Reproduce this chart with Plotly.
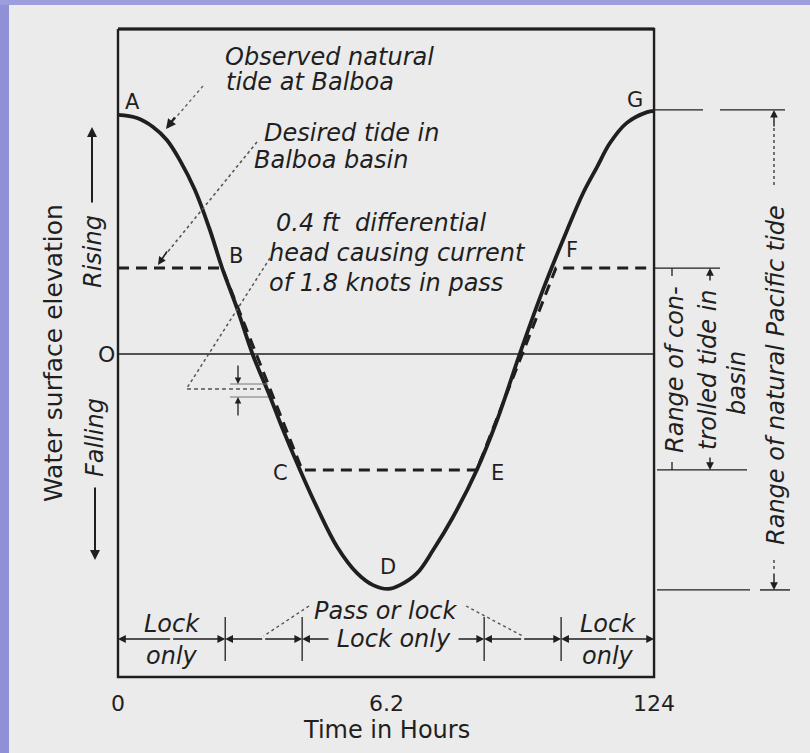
import plotly.graph_objects as go

# observed natural tide at Balboa: time (hours) and water level (ft about mean)
hours = [0.0, 0.44, 0.81, 1.13, 1.43, 1.78, 2.11, 2.41, 2.75, 3.12, 3.52, 3.82,
         4.21, 4.60, 5.07, 5.53, 5.90, 6.25, 6.52, 6.92, 7.29, 7.75, 8.30, 8.77,
         9.30, 9.83, 10.39, 10.76, 11.08, 11.38, 11.77, 12.24, 12.40]
observed_ft = [9.96, 9.83, 9.46, 8.92, 8.08, 6.83, 5.25, 3.58, 1.92, -0.04, -1.79, -3.17,
               -4.83, -6.38, -8.04, -9.13, -9.63, -9.79, -9.63, -9.13, -8.17, -6.79, -4.83, -2.75,
               0.04, 2.67, 5.17, 6.71, 7.79, 8.79, 9.63, 10.08, 10.13]

# desired (controlled) tide in Balboa basin
desired_hours = [0.0, 2.41, 4.26, 8.30, 10.13, 12.4]
desired_ft = [3.58, 3.58, -4.83, -4.83, 3.58, 3.58]

natural_range = [10.17, -9.83]
controlled_range = [3.58, -4.83]

# operating periods along the bottom
period_edges = [0.0, 2.48, 4.26, 8.47, 10.25, 12.4]
period_labels = ["Lock|only", "", "Lock only", "", "Lock|only"]

x_ticks = [0, 6.2, 12.4]
x_tick_text = ["0", "6.2", "124"]

INK = "#1f1f1f"
PAPER = "#ebebeb"
FONT = "DejaVu Sans"


def hx(px):
    """pixel column -> hours"""
    return (px - 118) / 43.23


def fy(py):
    """pixel row -> feet"""
    return (354 - py) / 24


fig = go.Figure()


def line(xs, ys, width=1.5, dash="solid", color=INK, shape="linear"):
    fig.add_trace(go.Scatter(x=xs, y=ys, mode="lines",
                             line=dict(color=color, width=width, dash=dash, shape=shape, smoothing=1.0),
                             hoverinfo="skip", showlegend=False))


def arrow(x0, y0, x1, y1, width=1.4, size=1.1):
    fig.add_annotation(x=x1, y=y1, ax=x0, ay=y0, xref="x", yref="y", axref="x", ayref="y", text="",
                       showarrow=True, arrowhead=2, arrowsize=size, arrowwidth=width, arrowcolor=INK)


def label(x, y, text, size=24, italic=True, anchor="center", angle=0, bg=None, xshift=0, yshift=0):
    fig.add_annotation(x=x, y=y, text=f"<i>{text}</i>" if italic else text, showarrow=False,
                       xanchor=anchor, yanchor="middle", textangle=angle, xshift=xshift, yshift=yshift,
                       bgcolor=bg, borderpad=0, font=dict(family=FONT, size=size, color=INK))


# frame and zero line
box_bottom, box_top = fy(677), fy(29)
line([0, 0, 12.4, 12.4, 0], [box_top, box_bottom, box_bottom, box_top, box_top], width=2.4)
line([0, 12.4], [box_top, box_top], width=3)
line([0, 12.4], [0, 0], width=1.6)

# tides
line(desired_hours, desired_ft, width=3, dash="11px,7px")
line(hours, observed_ft, width=3.8, shape="spline")

# letters on the curves
lo = observed_ft.index(min(observed_ft))
pts = [(hours[0], observed_ft[0], 14, 13), (desired_hours[1], desired_ft[1], 14, 12),
       (desired_hours[2], desired_ft[2], -22, -3), (hours[lo], observed_ft[lo], 0, 22),
       (desired_hours[3], desired_ft[3], 21, -3), (desired_hours[4], desired_ft[4], 16, 18),
       (hours[-1], observed_ft[-1], -19, 11)]
for name, (x, y, dx, dy) in zip(["A", "B", "C", "D", "E", "F", "G"], pts):
    label(x, y, name, size=21, italic=False, xshift=dx, yshift=dy)

# natural range dimension on the right
xn = hx(774)
line([12.4, hx(703)], [natural_range[0]] * 2, width=1.4)
line([hx(720), hx(785)], [natural_range[0]] * 2, width=1.4)
line([hx(657), hx(750)], [natural_range[1]] * 2, width=1.4)
line([hx(760), hx(790)], [natural_range[1]] * 2, width=1.4)
arrow(xn, fy(128), xn, natural_range[0])
arrow(xn, fy(572), xn, natural_range[1])
line([xn, xn], [fy(128), fy(185)], width=1.6, dash="dot", color="#555")
line([xn, xn], [fy(560), fy(572)], width=1.6, dash="dot", color="#555")
label(hx(776), fy(375), "Range of natural Pacific tide", size=24, angle=-90)

# controlled range dimension
xc = hx(710)
line([12.4, hx(720)], [controlled_range[0]] * 2, width=1.4)
line([hx(657), hx(747)], [controlled_range[1]] * 2, width=1.4)
arrow(xc, fy(282), xc, controlled_range[0])
arrow(xc, fy(456), xc, controlled_range[1])
line([hx(672), hx(672)], [controlled_range[0], fy(276)], width=1.3)
line([hx(672), hx(672)], [controlled_range[1], fy(462)], width=1.3)
label(hx(675), fy(370), "Range of con-", size=24, angle=-90)
label(hx(708), fy(370), "trolled tide in", size=24, angle=-90)
label(hx(737), fy(383), "basin", size=24, angle=-90)

# operating periods
yp = fy(639)
for a, b in zip(period_edges[:-1], period_edges[1:]):
    m = (a + b) / 2
    arrow(m, yp, a, yp, width=1.3, size=1.2)
    arrow(m, yp, b, yp, width=1.3, size=1.2)
for e in period_edges[1:-1]:
    line([e, e], [fy(617), fy(661)], width=1.3)
for (a, b), txt in zip(zip(period_edges[:-1], period_edges[1:]), period_labels):
    m = (a + b) / 2
    if "|" in txt:
        top, bot = txt.split("|")
        label(m, fy(624), top, size=24)
        label(m, fy(656), bot, size=24)
    elif txt:
        label(m, yp, "&nbsp;" + txt + "&nbsp;", size=24, bg=PAPER)
label(6.2, fy(611), "Pass or lock", size=24)
m2 = (period_edges[1] + period_edges[2]) / 2
m4 = (period_edges[3] + period_edges[4]) / 2
line([hx(309), m2], [fy(606), fy(636)], width=1.4, dash="dot", color="#555")
line([hx(466), m4], [fy(606), fy(636)], width=1.4, dash="dot", color="#555")

# axes text
for t, s in zip(x_ticks, x_tick_text):
    label(t, fy(703), s, size=22, italic=False)
label(hx(106), 0, "O", size=22, italic=False)
label(6.2, fy(730), "Time in Hours", size=24, italic=False)
label(hx(53), fy(353), "Water surface elevation", size=25, italic=False, angle=-90)
label(hx(93), fy(252), "Rising", size=24, angle=-90)
arrow(hx(92), fy(204), hx(92), fy(127), width=2, size=1)
label(hx(95), fy(438), "Falling", size=24, angle=-90)
arrow(hx(95), fy(486), hx(95), fy(560), width=2, size=1)

# notes and leaders
label(hx(224), fy(57), "Observed natural", anchor="left")
label(hx(225), fy(82), "tide at Balboa", anchor="left")
line([hx(203), hx(172)], [fy(86), fy(122)], width=1.4, dash="dot", color="#666")
arrow(hx(176), fy(116), hx(166), fy(129), width=2.2, size=0.9)

label(hx(263), fy(133), "Desired tide in", anchor="left")
label(hx(253), fy(160), "Balboa basin", anchor="left")
line([hx(257), hx(166)], [fy(142), fy(254)], width=1.6, dash="dot", color="#555")
arrow(hx(168), fy(250), hx(158), fy(265), width=1.6, size=1)

label(hx(275), fy(223), "0.4 ft  differential", anchor="left")
label(hx(268), fy(253), "head causing current", anchor="left")
label(hx(268), fy(283), "of 1.8 knots in pass", anchor="left")
line([hx(270), hx(187)], [fy(258), fy(388)], width=1.5, dash="dot", color="#555")
line([hx(187), hx(264)], [fy(389), fy(389)], width=1.3, dash="4px,3px", color="#555")
line([hx(230), hx(268)], [fy(384), fy(384)], width=1, color="#777")
line([hx(230), hx(268)], [fy(397), fy(397)], width=1, color="#777")
arrow(hx(238), fy(364), hx(238), fy(384), width=1.3, size=1)
arrow(hx(238), fy(417), hx(238), fy(397), width=1.3, size=1)

# slide background strips
fig.add_shape(type="rect", xref="paper", yref="paper", x0=0, x1=9 / 810, y0=0, y1=1,
              fillcolor="#8f90d6", line_width=0)
fig.add_shape(type="rect", xref="paper", yref="paper", x0=0, x1=1, y0=1 - 5 / 753, y1=1,
              fillcolor="#9c9ddc", line_width=0)

fig.update_layout(width=810, height=753, margin=dict(l=0, r=0, t=0, b=0),
                  paper_bgcolor=PAPER, plot_bgcolor=PAPER, showlegend=False,
                  xaxis=dict(range=[hx(0), hx(810)], visible=False, fixedrange=True),
                  yaxis=dict(range=[fy(753), fy(0)], visible=False, fixedrange=True))

# drop the page's default body margin so the figure sits at the window corner
fig.write_html("out.html", config={"displayModeBar": False},
               post_script="document.body.style.margin='0';")
